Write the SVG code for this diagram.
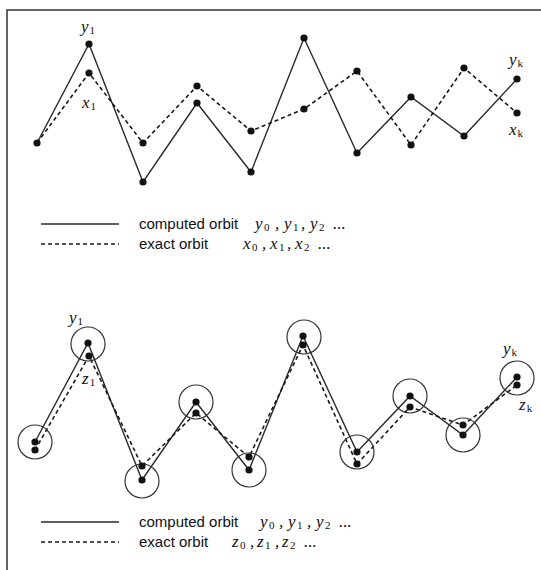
<svg xmlns="http://www.w3.org/2000/svg" width="541" height="570" viewBox="0 0 541 570">
<defs>
<style>
.solid{fill:none;stroke:#2a2a2a;stroke-width:1.4}
.dash{fill:none;stroke:#1a1a1a;stroke-width:1.6;stroke-dasharray:4 3}
.dot{fill:#111}
.ring{fill:none;stroke:#333;stroke-width:1.2}
.lbl{font-family:"Liberation Sans",Arial,sans-serif;font-size:15px;fill:#111}
.math{font-family:"Liberation Serif","Times New Roman",serif;font-style:italic;font-size:17px;fill:#111}
.sub{font-style:normal;font-size:11px}
.frame{stroke:#333;stroke-width:1.5;fill:none}
</style>
</defs>
<rect width="541" height="570" fill="#fff"/>
<path class="frame" d="M7,570 V10 H541"/>

<g id="connectors">
<polyline class="solid" points="37,143 89,44 143,182 197,103 251,172 304,38 357,153 411,97 464,136 517,79"/>
<polyline class="dash" points="37,143 89,73 143,143 197,86 251,131 304,109 357,71 411,145 464,68 517,113"/>
<polyline class="solid" points="35,442 88,343 142,480 196,402 249,470 303,336 357,452 410,396 463,435 517,377"/>
<polyline class="dash" points="35,450 89,356 142,466 196,413 249,457 303,345 357,464 410,407 463,425 517,385"/>
</g>

<g id="top-orbits">
<circle class="dot" cx="37" cy="143" r="3.6"/>
<circle class="dot" cx="89" cy="44" r="3.6"/>
<circle class="dot" cx="89" cy="73" r="3.6"/>
<circle class="dot" cx="143" cy="143" r="3.6"/>
<circle class="dot" cx="143" cy="182" r="3.6"/>
<circle class="dot" cx="197" cy="86" r="3.6"/>
<circle class="dot" cx="197" cy="103" r="3.6"/>
<circle class="dot" cx="251" cy="131" r="3.6"/>
<circle class="dot" cx="251" cy="172" r="3.6"/>
<circle class="dot" cx="304" cy="38" r="3.6"/>
<circle class="dot" cx="304" cy="109" r="3.6"/>
<circle class="dot" cx="357" cy="71" r="3.6"/>
<circle class="dot" cx="357" cy="153" r="3.6"/>
<circle class="dot" cx="411" cy="97" r="3.6"/>
<circle class="dot" cx="411" cy="145" r="3.6"/>
<circle class="dot" cx="464" cy="68" r="3.6"/>
<circle class="dot" cx="464" cy="136" r="3.6"/>
<circle class="dot" cx="517" cy="79" r="3.6"/>
<circle class="dot" cx="517" cy="113" r="3.6"/>
<text class="math" x="81" y="32">y<tspan class="sub" dy="2" dx="1">1</tspan></text>
<text class="math" x="82" y="108">x<tspan class="sub" dy="2" dx="1">1</tspan></text>
<text class="math" x="509" y="65">y<tspan class="sub" dy="2" dx="1">k</tspan></text>
<text class="math" x="509" y="135">x<tspan class="sub" dy="2" dx="1">k</tspan></text>
</g>

<g id="top-legend">
<line class="solid" x1="41" y1="224" x2="119" y2="224"/>
<line class="dash" x1="41" y1="244" x2="119" y2="244"/>
<text class="lbl" x="139" y="229">computed orbit</text>
<text class="math" y="229"><tspan x="255">y</tspan><tspan class="sub" x="264" y="231">0</tspan><tspan x="275" y="229">,</tspan><tspan x="284">y</tspan><tspan class="sub" x="293" y="231">1</tspan><tspan x="301" y="229">,</tspan><tspan x="310">y</tspan><tspan class="sub" x="319" y="231">2</tspan><tspan x="333" y="229">...</tspan></text>
<text class="lbl" x="139" y="249">exact orbit</text>
<text class="math" y="249"><tspan x="243">x</tspan><tspan class="sub" x="252" y="251">0</tspan><tspan x="262" y="249">,</tspan><tspan x="270">x</tspan><tspan class="sub" x="279" y="251">1</tspan><tspan x="287" y="249">,</tspan><tspan x="295">x</tspan><tspan class="sub" x="304" y="251">2</tspan><tspan x="318" y="249">...</tspan></text>
</g>

<g id="bottom-orbits">
<circle class="ring" cx="35" cy="442" r="17"/>
<circle class="ring" cx="88" cy="344" r="17"/>
<circle class="ring" cx="142" cy="481" r="17"/>
<circle class="ring" cx="196" cy="402" r="17"/>
<circle class="ring" cx="249" cy="470" r="17"/>
<circle class="ring" cx="304" cy="337" r="17"/>
<circle class="ring" cx="357" cy="452" r="17"/>
<circle class="ring" cx="410" cy="396" r="17"/>
<circle class="ring" cx="463" cy="435" r="17"/>
<circle class="ring" cx="517" cy="378" r="17"/>
<circle class="dot" cx="35" cy="442" r="3.6"/>
<circle class="dot" cx="35" cy="450" r="3.6"/>
<circle class="dot" cx="88" cy="343" r="3.6"/>
<circle class="dot" cx="89" cy="356" r="3.6"/>
<circle class="dot" cx="142" cy="480" r="3.6"/>
<circle class="dot" cx="142" cy="466" r="3.6"/>
<circle class="dot" cx="196" cy="402" r="3.6"/>
<circle class="dot" cx="196" cy="413" r="3.6"/>
<circle class="dot" cx="249" cy="470" r="3.6"/>
<circle class="dot" cx="249" cy="457" r="3.6"/>
<circle class="dot" cx="303" cy="336" r="3.6"/>
<circle class="dot" cx="303" cy="345" r="3.6"/>
<circle class="dot" cx="357" cy="452" r="3.6"/>
<circle class="dot" cx="357" cy="464" r="3.6"/>
<circle class="dot" cx="410" cy="396" r="3.6"/>
<circle class="dot" cx="410" cy="407" r="3.6"/>
<circle class="dot" cx="463" cy="435" r="3.6"/>
<circle class="dot" cx="463" cy="425" r="3.6"/>
<circle class="dot" cx="517" cy="377" r="3.6"/>
<circle class="dot" cx="517" cy="385" r="3.6"/>
<text class="math" x="69" y="323">y<tspan class="sub" dy="2" dx="1">1</tspan></text>
<text class="math" x="82" y="384">z<tspan class="sub" dy="2" dx="1">1</tspan></text>
<text class="math" x="503" y="354">y<tspan class="sub" dy="2" dx="1">k</tspan></text>
<text class="math" x="519" y="410">z<tspan class="sub" dy="2" dx="1">k</tspan></text>
</g>

<g id="bottom-legend">
<line class="solid" x1="41" y1="522" x2="119" y2="522"/>
<line class="dash" x1="41" y1="542" x2="119" y2="542"/>
<text class="lbl" x="139" y="527">computed orbit</text>
<text class="math" y="527"><tspan x="260">y</tspan><tspan class="sub" x="269" y="529">0</tspan><tspan x="279" y="527">,</tspan><tspan x="288">y</tspan><tspan class="sub" x="297" y="529">1</tspan><tspan x="307" y="527">,</tspan><tspan x="316">y</tspan><tspan class="sub" x="325" y="529">2</tspan><tspan x="339" y="527">...</tspan></text>
<text class="lbl" x="139" y="547">exact orbit</text>
<text class="math" y="547"><tspan x="232">z</tspan><tspan class="sub" x="240" y="549">0</tspan><tspan x="250" y="547">,</tspan><tspan x="257">z</tspan><tspan class="sub" x="265" y="549">1</tspan><tspan x="275" y="547">,</tspan><tspan x="282">z</tspan><tspan class="sub" x="290" y="549">2</tspan><tspan x="304" y="547">...</tspan></text>
</g>
</svg>
